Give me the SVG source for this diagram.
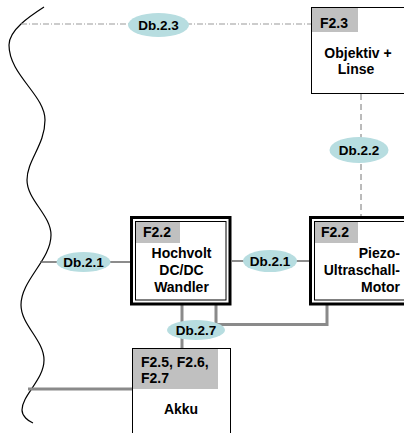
<svg xmlns="http://www.w3.org/2000/svg" width="404" height="433" viewBox="0 0 404 433">
<style>
text{font-family:"Liberation Sans",Arial,sans-serif;font-weight:bold;fill:#000}
.lbl{font-size:14px}
.db{font-size:13.5px;text-anchor:middle}
.mid{text-anchor:middle}
.end{text-anchor:end}
.tag{fill:#c0c0c0}
.oval{fill:#b7dde0}
.box{fill:#fff;stroke:#000;stroke-width:1}
.outer{fill:#fff;stroke:#000;stroke-width:3}
.inner{fill:none;stroke:#000;stroke-width:1}
.thick{fill:none;stroke:#8a8a8a;stroke-width:3}
.thin{fill:none;stroke:#666;stroke-width:1.5}
</style>
<rect width="404" height="433" fill="#fff"/>
<g id="connectors">
<path d="M44,7 C30,16 9,30 9,45 C9,75 45,95 45,120 C45,145 27,160 27,180 C27,200 51,215 51,235 C51,260 21,280 21,305 C21,325 44,340 44,360 C44,380 22,395 22,410 C22,416 28,421 33,423" fill="none" stroke="#000" stroke-width="1.2"/>
<line x1="21" y1="24" x2="311" y2="24" stroke="#999" stroke-width="1" stroke-dasharray="6 2 1 2"/>
<line x1="361" y1="94" x2="361" y2="216" stroke="#777" stroke-width="1" stroke-dasharray="6 4"/>
<line x1="40" y1="262" x2="130" y2="262" class="thin"/>
<line x1="232" y1="261" x2="309" y2="261" class="thin"/>
<line x1="182" y1="305" x2="182" y2="348" class="thick"/>
<polyline points="216,305 216,324.5 327,324.5 327,305" class="thick"/>
<line x1="28" y1="389" x2="132" y2="389" class="thick"/>
</g>
<g id="objektiv">
<rect x="311.5" y="7.5" width="100" height="86" class="box"/>
<rect x="312" y="8" width="46" height="24" class="tag"/>
<text x="320" y="28" class="lbl">F2.3</text>
<text x="358" y="58" class="lbl mid">Objektiv +</text>
<text x="356" y="74" class="lbl mid">Linse</text>
</g>
<g id="hochvolt">
<rect x="131.5" y="217.5" width="98.5" height="86.5" class="outer"/>
<rect x="135.5" y="221.5" width="90.5" height="78.5" class="inner"/>
<rect x="136" y="222" width="44" height="21" class="tag"/>
<text x="143" y="237" class="lbl">F2.2</text>
<text x="181.5" y="258" class="lbl mid">Hochvolt</text>
<text x="181.5" y="275" class="lbl mid">DC/DC</text>
<text x="181.5" y="292" class="lbl mid">Wandler</text>
</g>
<g id="piezo">
<rect x="310.5" y="217.5" width="110" height="86.5" class="outer"/>
<rect x="314.5" y="221.5" width="100" height="78.5" class="inner"/>
<rect x="315" y="222" width="43" height="21" class="tag"/>
<text x="321" y="237" class="lbl">F2.2</text>
<text x="400" y="258" class="lbl end">Piezo-</text>
<text x="400" y="275" class="lbl end">Ultraschall-</text>
<text x="400" y="292" class="lbl end">Motor</text>
</g>
<g id="akku">
<rect x="132.5" y="348.5" width="98" height="100" class="box"/>
<rect x="133" y="349" width="85" height="40" class="tag"/>
<text x="141" y="367" class="lbl">F2.5, F2.6,</text>
<text x="141" y="383" class="lbl">F2.7</text>
<text x="181" y="414" class="lbl mid">Akku</text>
</g>
<g id="db23">
<ellipse cx="158.5" cy="25" rx="30.5" ry="12" class="oval"/>
<text x="158.5" y="30" class="db">Db.2.3</text>
</g>
<g id="db22">
<ellipse cx="359" cy="150" rx="29.5" ry="13" class="oval"/>
<text x="359" y="155" class="db">Db.2.2</text>
</g>
<g id="db21a">
<ellipse cx="83.5" cy="262" rx="27" ry="10" class="oval"/>
<text x="83.5" y="267" class="db">Db.2.1</text>
</g>
<g id="db21b">
<ellipse cx="270" cy="261" rx="27" ry="11" class="oval"/>
<text x="270" y="266" class="db">Db.2.1</text>
</g>
<g id="db27">
<ellipse cx="196" cy="330" rx="29" ry="10" class="oval"/>
<text x="196" y="335" class="db">Db.2.7</text>
</g>
</svg>
